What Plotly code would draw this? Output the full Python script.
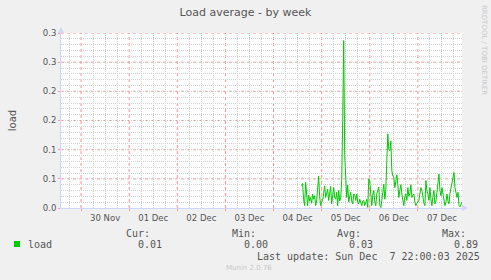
import plotly.graph_objects as go
import pandas as pd

# ---- data ----
start_time = "2025-12-04 14:00"
step_minutes = 30
load_values = [
    0.038, 0.042, 0.015, 0.004, 0.044, 0.020, 0.004, 0.022, 0.012, 0.018,
    0.008, 0.024, 0.015, 0.021, 0.004, 0.012, 0.030, 0.055, 0.020, 0.004,
    0.010, 0.013, 0.025, 0.038, 0.018, 0.024, 0.032, 0.013, 0.025, 0.037,
    0.007, 0.022, 0.035, 0.018, 0.015, 0.027, 0.004, 0.030, 0.012, 0.018,
    0.047, 0.150, 0.287, 0.090, 0.035, 0.018, 0.039, 0.010, 0.020, 0.027,
    0.012, 0.007, 0.024, 0.022, 0.013, 0.024, 0.010, 0.007, 0.015, 0.010,
    0.004, 0.012, 0.013, 0.004, 0.008, 0.015, 0.001, 0.050, 0.045, 0.020,
    0.004, 0.022, 0.030, 0.010, 0.004, 0.024, 0.030, 0.036, 0.004, 0.001,
    0.013, 0.030, 0.041, 0.015, 0.030, 0.080, 0.127, 0.100, 0.098, 0.115,
    0.064, 0.055, 0.053, 0.035, 0.045, 0.057, 0.040, 0.018, 0.030, 0.040,
    0.024, 0.010, 0.004, 0.020, 0.024, 0.013, 0.035, 0.020, 0.025, 0.040,
    0.018, 0.022, 0.024, 0.010, 0.004, 0.008, 0.012, 0.013, 0.024, 0.035,
    0.030, 0.015, 0.008, 0.004, 0.047, 0.030, 0.024, 0.013, 0.035, 0.015,
    0.004, 0.020, 0.030, 0.007, 0.012, 0.027, 0.040, 0.058, 0.030, 0.021,
    0.035, 0.025, 0.018, 0.004, 0.010, 0.024, 0.012, 0.007, 0.025, 0.035,
    0.044, 0.050, 0.061, 0.035, 0.027, 0.018, 0.027, 0.004, 0.002, 0.007,
    0.010,
]
x_range = ["2025-11-29 14:00", "2025-12-07 22:00"]
day_boundaries = pd.date_range("2025-11-30", "2025-12-07", freq="D")
y_tickvals = [0.0, 0.05, 0.10, 0.15, 0.20, 0.25, 0.30]
y_ticktext = ["0.0", "0.1", "0.1", "0.2", "0.2", "0.3", "0.3"]
legend_name = "load"
stat_labels = ["Cur:", "Min:", "Avg:", "Max:"]
stat_values = ["0.01", "0.00", "0.03", "0.89"]
last_update = "Last update: Sun Dec  7 22:00:03 2025"

times = pd.date_range(start_time, periods=len(load_values), freq=f"{step_minutes}min")

# ---- layout geometry (pixels) ----
W, H = 491, 280
L, R, T, B = 61, 462, 33, 208


def px(x):
    return (x - L) / (R - L)


def py(y):
    return (B - y) / (B - T)


FONT = "DejaVu Sans"
MONO = "DejaVu Sans Mono"
TXT = "#555555"
MAJOR = "#FF6A6A"
TICKC = "#F4A0A0"
MINOR = "#D0D0D0"
AXIS = "#CFD6F8"
GREEN = "#00CC00"
DASH = "1px,1px"

fig = go.Figure()
fig.add_trace(go.Scatter(x=times, y=load_values, mode="lines",
                         line=dict(color=GREEN, width=1), showlegend=False,
                         hoverinfo="skip"))

fig.update_layout(
    width=W, height=H,
    margin=dict(l=L, r=W - R, t=T, b=H - B),
    paper_bgcolor="#F0F0F0", plot_bgcolor="#FFFFFF",
    font=dict(family=FONT, size=9, color=TXT),
    showlegend=False,
    title=dict(text="Load average - by week", x=px(245.5), xref="paper",
               xanchor="center", y=1 - 12 / H, yanchor="middle",
               font=dict(family=FONT, size=11, color=TXT)),
)

fig.update_xaxes(
    type="date", range=x_range,
    dtick=86400000, tick0="2025-11-30", ticklabelmode="period",
    tickformat="%d %b", tickfont=dict(family=FONT, size=8.5, color=TXT),
    showgrid=False,
    minor=dict(dtick=21600000, showgrid=True, gridcolor=MINOR,
               griddash=DASH, gridwidth=1),
    showline=True, linecolor=AXIS, linewidth=1,
    ticks="outside", ticklen=2, tickcolor=TICKC,
    zeroline=False, fixedrange=True,
)

fig.update_yaxes(
    range=[0, 0.3], tickvals=y_tickvals, ticktext=y_ticktext,
    tickfont=dict(family=FONT, size=8.5, color=TXT),
    showgrid=False,
    minor=dict(dtick=0.01, tick0=0, showgrid=True, gridcolor=MINOR,
               griddash=DASH, gridwidth=1),
    showline=True, linecolor=AXIS, linewidth=1,
    ticks="outside", ticklen=2, tickcolor=TICKC,
    zeroline=False, fixedrange=True,
    title=dict(text="load", font=dict(family=FONT, size=10, color=TXT), standoff=24),
)

# major grid (drawn above the minor grid, below the data)
for d in day_boundaries:
    fig.add_shape(type="line", xref="x", yref="paper", x0=d, x1=d, y0=0, y1=1,
                  line=dict(color=MAJOR, width=1, dash="dot"), layer="between",
                  opacity=0.75)
for v in y_tickvals[1:]:
    fig.add_shape(type="line", xref="paper", yref="y", x0=0, x1=1, y0=v, y1=v,
                  line=dict(color=MAJOR, width=1, dash="dot"), layer="between",
                  opacity=0.75)

# axis arrows
fig.add_shape(type="path", xref="paper", yref="paper", xsizemode="pixel",
              ysizemode="pixel", xanchor=0, yanchor=1,
              path="M-3,0 L3,0 L0,6 Z", fillcolor=AXIS, line=dict(width=0))
fig.add_shape(type="path", xref="paper", yref="paper", xsizemode="pixel",
              ysizemode="pixel", xanchor=1, yanchor=0,
              path="M0,-3 L0,3 L6,0 Z", fillcolor=AXIS, line=dict(width=0))

# legend square
fig.add_shape(type="rect", xref="paper", yref="paper",
              x0=px(14), x1=px(20), y0=py(247), y1=py(241),
              fillcolor=GREEN, line=dict(width=0))

ann = []


def text(x, y, s, size=10, family=MONO, color=TXT, anchor="left", angle=0):
    ann.append(dict(x=px(x), y=py(y), xref="paper", yref="paper", text=s,
                    showarrow=False, xanchor=anchor, yanchor="middle",
                    textangle=angle, font=dict(family=family, size=size, color=color)))


text(26, 244, legend_name)
label_x = [125, 231, 336, 441]
value_x = [137, 243, 348, 453]
for lx, lab in zip(label_x, stat_labels):
    text(lx - 1, 233, lab)
for vx, val in zip(value_x, stat_values):
    text(vx - 1, 244, val)
text(255, 256, last_update.replace(" ", "&nbsp;"))
text(224, 268, "Munin 2.0.76", size=7, family=FONT, color="#C8C8C8")
text(484, 50, "RRDTOOL / TOBI OETIKER", size=7, family=FONT, color="#C8C8C8",
     anchor="center", angle=90)

fig.update_layout(annotations=ann)
fig.write_html("out.html")
